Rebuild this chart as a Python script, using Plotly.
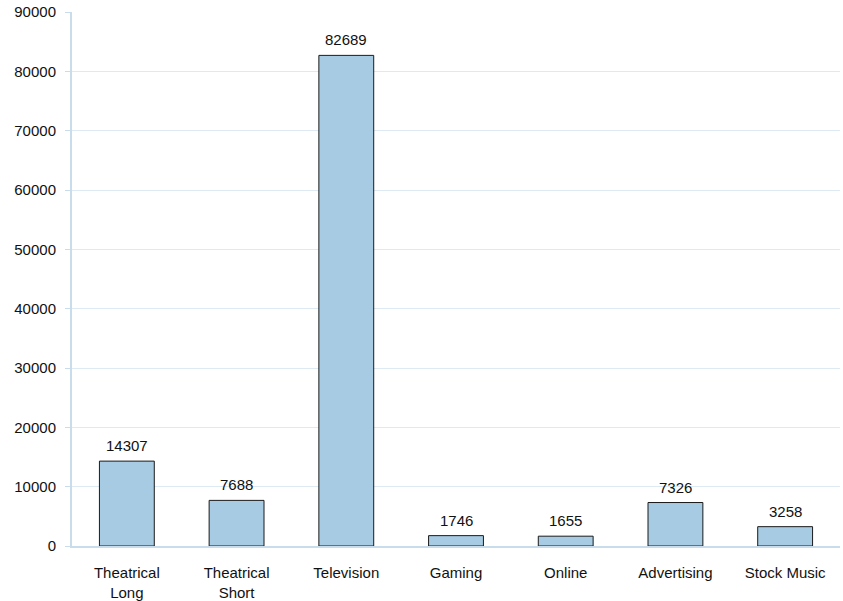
import plotly.graph_objects as go

categories = ["Theatrical<br>Long", "Theatrical<br>Short", "Television", "Gaming", "Online", "Advertising", "Stock Music"]
values = [14307, 7688, 82689, 1746, 1655, 7326, 3258]
y_ticks = [0, 10000, 20000, 30000, 40000, 50000, 60000, 70000, 80000, 90000]

FONT = "Liberation Sans, Arial"

fig = go.Figure(go.Bar(
    x=categories, y=values,
    marker=dict(color="#a6cbe3", line=dict(color="#1a1a1a", width=1)),
    cliponaxis=False,
))
for c, v in zip(categories, values):
    fig.add_annotation(x=c, y=v, text=str(v), showarrow=False, yanchor="bottom",
                       yshift=5, font=dict(family=FONT, size=15, color="#111"))

fig.update_layout(
    width=843, height=601,
    margin=dict(l=72, r=3, t=12, b=55),
    plot_bgcolor="white", paper_bgcolor="white",
    bargap=0.5, showlegend=False,
    font=dict(family=FONT, size=15, color="#111"),
    xaxis=dict(showgrid=False, showline=True, linecolor="#c8dcec", linewidth=2,
               ticks="outside", ticklen=12, tickcolor="rgba(0,0,0,0)",
               tickfont=dict(size=15), automargin=False),
    yaxis=dict(range=[0, 90000], tickvals=y_ticks, tickformat="d",
               showgrid=True, gridcolor="#dde9f3",
               gridwidth=1, showline=True, linecolor="#c8dcec", linewidth=2,
               ticks="outside", ticklen=5, tickcolor="#c8dcec", zeroline=False,
               ticklabelstandoff=6, tickfont=dict(size=15), automargin=False),
)
fig.write_html("out.html")
